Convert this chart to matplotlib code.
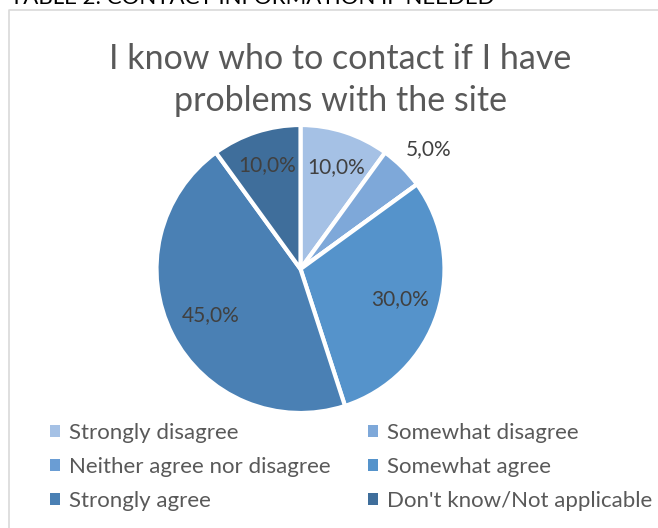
import matplotlib
matplotlib.use("Agg")
import matplotlib.pyplot as plt
from matplotlib.lines import Line2D
from matplotlib.patches import Patch
import numpy as np

plt.rcParams['font.family'] = ['Lato', 'DejaVu Sans']

# Survey answers and their shares (%)
categories = ['Strongly disagree', 'Somewhat disagree', 'Neither agree nor disagree',
              'Somewhat agree', 'Strongly agree', "Don't know/Not applicable"]
shares = [10.0, 5.0, 0.0, 30.0, 45.0, 10.0]
colors = ['#A5C1E5', '#7EA8D9', '#6A9DD4', '#5593CB', '#4A80B4', '#3F6E9B']

title = 'I know who to contact if I have\nproblems with the site'
caption = 'TABLE 2: CONTACT INFORMATION IF NEEDED'

# value label placement: fraction of the radius and angular nudge (deg)
label_dist = [0.75, 1.22, 0.75, 0.72, 0.70, 0.76]
label_turn = [-1, -2, 0, 1, 0, 0]

W, H = 658, 528
fig = plt.figure(figsize=(W / 100, H / 100), dpi=100)

# chart frame (left and top edges)
fig.add_artist(Line2D([9 / W, 9 / W, 1], [0, 1 - 10 / H, 1 - 10 / H],
                      color='#D9D9D9', lw=1.2, transform=fig.transFigure))

# caption of the surrounding document, mostly cut off at the top
fig.text(10 / W, 1 - 4 / H, caption, fontsize=16, color='black',
         ha='left', va='baseline')

fig.text(340 / W, 1 - 80 / H, title, fontsize=24.5, color='#595959',
         ha='center', va='center', linespacing=1.38)

cx, cy, r = 300.5, 269, 144
ax = fig.add_axes([(cx - r) / W, 1 - (cy + r) / H, 2 * r / W, 2 * r / H])
wedges, _ = ax.pie(shares, colors=colors, startangle=90, counterclock=False,
                   radius=1.0, wedgeprops=dict(edgecolor='white', linewidth=3))
ax.set_xlim(-1, 1)
ax.set_ylim(-1, 1)
ax.set_aspect('equal')
ax.axis('off')

for w, val, d, t in zip(wedges, shares, label_dist, label_turn):
    if val == 0:
        continue
    ang = np.deg2rad((w.theta1 + w.theta2) / 2 + t)
    ax.text(d * np.cos(ang), d * np.sin(ang), f'{val:.1f}%'.replace('.', ','),
            ha='center', va='center', fontsize=15, color='#404040')

handles = [Patch(facecolor=c, edgecolor='none') for c in colors]
order = [0, 2, 4, 1, 3, 5]
fig.legend([handles[i] for i in order], [categories[i] for i in order],
           ncol=2, loc='upper left', bbox_to_anchor=(30 / W, 1 - 403 / H),
           frameon=False, fontsize=16, labelcolor='#595959',
           handlelength=0.45, handleheight=0.45, handletextpad=0.4,
           columnspacing=1.7, labelspacing=0.63)

fig.savefig('out.png', dpi=100, facecolor='white')
